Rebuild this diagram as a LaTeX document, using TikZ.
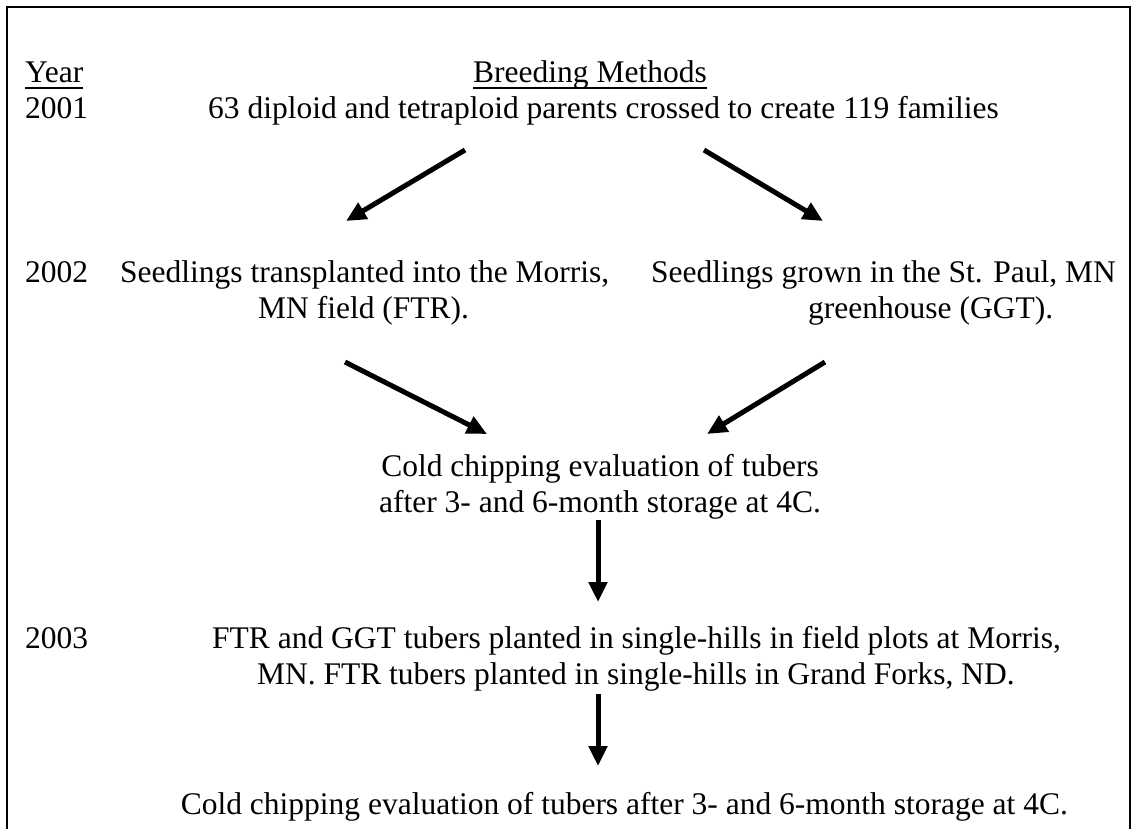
\documentclass[tikz,border=0pt]{standalone}
\usepackage{fontspec}
\setmainfont{Liberation Serif}
\usetikzlibrary{arrows.meta}
\begin{document}
\begin{tikzpicture}[x=1pt,y=-1pt,
  txt/.style={inner sep=0pt,font=\fontsize{31.5}{36}\selectfont},
  arr/.style={line width=5pt,-{Triangle[length=20pt,width=18pt]}},
  frame/.style={line width=2pt}]
\useasboundingbox (0,0) rectangle (1131,829);
% frame
\coordinate (fbl) at (7,829);
\coordinate (ftl) at (7,7);
\coordinate (ftr) at (1130,7);
\coordinate (fbr) at (1130,829);
\draw[frame] (fbl) -- (ftl) -- (ftr) -- (fbr);
% header
\node[txt,anchor=base west] (year) at (25,83) {Year};
\node[txt,anchor=base] (methods) at (590,83) {Breeding Methods};
\draw[line width=2pt] ([yshift=-5pt]year.base west) -- ([yshift=-5pt]year.base east);
\draw[line width=2pt] ([yshift=-5pt]methods.base west) -- ([yshift=-5pt]methods.base east);
% 2001
\node[txt,anchor=base west] (y2001) at (25,119) {2001};
\node[txt,anchor=base west] (cross) at (208,119) {63 diploid and tetraploid parents crossed to create 119 families};
% 2002
\node[txt,anchor=base west] (y2002) at (25,282) {2002};
\node[txt,anchor=base west] (ftrA) at (120,282) {Seedlings transplanted into the Morris,};
\node[txt,anchor=base west] (ftrB) at (258,318) {MN field (FTR).};
\node[txt,anchor=base west] (ggtA) at (651,282) {Seedlings grown in the St. Paul, MN};
\node[txt,anchor=base west] (ggtB) at (808,318) {greenhouse (GGT).};
% cold chipping 1
\node[txt,anchor=base] (coldA) at (600,476) {Cold chipping evaluation of tubers};
\node[txt,anchor=base] (coldB) at (600,512) {after 3- and 6-month storage at 4C.};
% 2003
\node[txt,anchor=base west] (y2003) at (25,648) {2003};
\node[txt,anchor=base west] (plantA) at (212,648) {FTR and GGT tubers planted in single-hills in field plots at Morris,};
\node[txt,anchor=base east] (plantB) at (1015,684) {MN. FTR tubers planted in single-hills in Grand Forks, ND.};
% final
\node[txt,anchor=base east] (coldC) at (1068,814) {Cold chipping evaluation of tubers after 3- and 6-month storage at 4C.};
% arrow end points
\coordinate (a1s) at (465,150); \coordinate (a1e) at (346,221);
\coordinate (a2s) at (704,150); \coordinate (a2e) at (823,221);
\coordinate (a3s) at (345,362); \coordinate (a3e) at (487,434);
\coordinate (a4s) at (825,362); \coordinate (a4e) at (707,434);
\coordinate (a5s) at (598,520); \coordinate (a5e) at (598,602);
\coordinate (a6s) at (598,694); \coordinate (a6e) at (598,766);
\draw[arr] (a1s) -- (a1e);
\draw[arr] (a2s) -- (a2e);
\draw[arr] (a3s) -- (a3e);
\draw[arr] (a4s) -- (a4e);
\draw[arr] (a5s) -- (a5e);
\draw[arr] (a6s) -- (a6e);
\end{tikzpicture}
\end{document}
